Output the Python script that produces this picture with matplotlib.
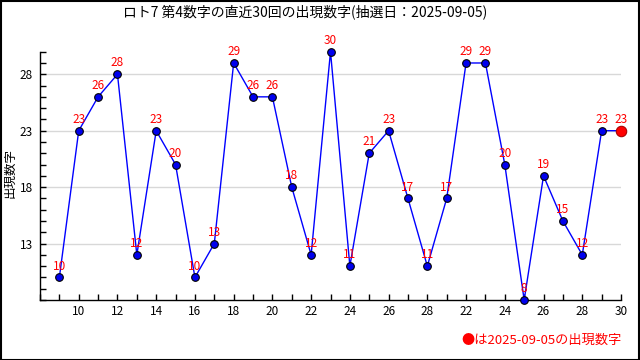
import matplotlib
matplotlib.use('Agg')
import matplotlib.pyplot as plt
from matplotlib.patches import Rectangle
from matplotlib.ticker import MultipleLocator

plt.rcParams['font.family'] = ['Noto Sans CJK JP', 'DejaVu Sans']

title = 'ロト7 第4数字の直近30回の出現数字(抽選日：2025-09-05)'
ylabel = '出現数字'
note = '●は2025-09-05の出現数字'

numbers = [10, 23, 26, 28, 12, 23, 20, 10, 13, 29, 26, 26, 18, 12, 30,
           11, 21, 23, 17, 11, 17, 29, 29, 20, 8, 19, 15, 12, 23, 23]
tick_labels = ['10', '12', '14', '16', '18', '20', '22', '24', '26', '28',
               '22', '24', '26', '28', '30']
yticks = [13, 18, 23, 28]

x = list(range(len(numbers)))

fig = plt.figure(figsize=(6.4, 3.6), dpi=100)
ax = fig.add_axes([40 / 640, 60 / 360, 581 / 640, 248.3 / 360])

ax.plot(x, numbers, color='#0000ff', lw=1, marker='o', ms=5.5,
        mfc='#0000ee', mec='black', mew=0.8, zorder=3, clip_on=False)
ax.plot(x[-1], numbers[-1], 'o', ms=7.5, mfc='#ff0000', mec='#aa0000',
        mew=0.8, zorder=4, clip_on=False)

for xi, v in zip(x, numbers):
    ax.annotate(str(v), (xi, v), xytext=(0, 3.5), textcoords='offset points',
                ha='center', va='bottom', color='#ff0000', fontsize=8.5,
                zorder=5)

ax.set_xlim(-1, len(numbers) - 1)
ax.set_ylim(8, 30)
ax.set_xticks(x[1::2])
ax.set_xticklabels(tick_labels)
ax.xaxis.set_minor_locator(MultipleLocator(1))
ax.set_yticks(yticks)
ax.yaxis.set_minor_locator(MultipleLocator(1))
ax.tick_params(which='both', direction='in', length=4, width=1,
               labelsize=8.5, color='black')
ax.tick_params(axis='y', which='major', pad=5)
ax.grid(axis='y', which='major', color='#d8d8d8', lw=1)
ax.set_axisbelow(True)
for side in ['top', 'right']:
    ax.spines[side].set_visible(False)
ax.spines['left'].set_linewidth(1)
ax.spines['bottom'].set_linewidth(1)

fig.text(10 / 640, 1 - 173 / 360, ylabel, rotation=90, ha='center',
         va='center', fontsize=9)
fig.text(305 / 640, 1 - 12 / 360, title, ha='center', va='center',
         fontsize=10)
fig.text(622 / 640, 1 - 340 / 360, note, ha='right', va='center',
         fontsize=9.5, color='#ff0000')

fig.patches.append(Rectangle((0.5 / 640, 0.5 / 360), 638 / 640, 358.5 / 360,
                             transform=fig.transFigure, fill=False,
                             ec='black', lw=1.5))

fig.savefig('out.png', dpi=100)
